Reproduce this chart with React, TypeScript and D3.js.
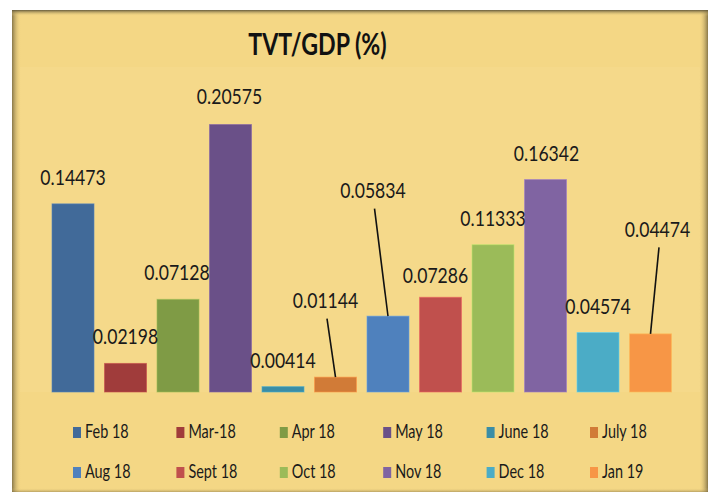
import React from "react";
import * as d3 from "d3";

const categories = ["Feb 18", "Mar-18", "Apr 18", "May 18", "June 18", "July 18", "Aug 18", "Sept 18", "Oct 18", "Nov 18", "Dec 18", "Jan 19"];
const values = [0.14473, 0.02198, 0.07128, 0.20575, 0.00414, 0.01144, 0.05834, 0.07286, 0.11333, 0.16342, 0.04574, 0.04474];
const labels = ["0.14473", "0.02198", "0.07128", "0.20575", "0.00414", "0.01144", "0.05834", "0.07286", "0.11333", "0.16342", "0.04574", "0.04474"];
const colors = ["#416A99", "#A03C3B", "#7F9B45", "#6A5088", "#3A8DA6", "#D17B37", "#4F81BD", "#C0504D", "#9BBB59", "#8064A2", "#4BACC6", "#F79646"];
const title = "TVT/GDP (%)";

// layout: label offsets relative to bar centre / bar top (dx, dy), and whether a leader line is drawn
const labelLayout = [
  { dx: 0, dy: -19, leader: false },
  { dx: 0, dy: -19, leader: false },
  { dx: -1, dy: -19, leader: false },
  { dx: -1, dy: -21, leader: false },
  { dx: 0, dy: -19, leader: false },
  { dx: -10, dy: -69, leader: true },
  { dx: -15, dy: -118, leader: true },
  { dx: -5, dy: -14, leader: false },
  { dx: 0, dy: -19, leader: false },
  { dx: 1, dy: -19, leader: false },
  { dx: 0, dy: -19, leader: false },
  { dx: 7, dy: -97, leader: true },
];

const W = 718;
const H = 493;
const BG = "#F4D785";
const EDGE = "#7d6d42";

export default function App() {
  const x = d3.scaleBand<string>().domain(categories).range([46.75, 676.75]).paddingInner(0.2).paddingOuter(0.1);
  const y = d3.scaleLinear().domain([0, 0.25]).range([392, 67]);

  const labelScale = 0.8;
  const legendScale = 0.74;
  const titleScale = 0.76;

  const legendX = d3.scaleLinear().domain([0, 5]).range([73, 590]);
  const legendRows = [438, 478];

  return (
    <svg width={W} height={H} style={{ position: "absolute", left: 0, top: 0 }} fontFamily="Lato, 'Liberation Sans', Arial, sans-serif">
      <defs>
        <linearGradient id="gl" x1="0" x2="1" y1="0" y2="0">
          <stop offset="0" stopColor={EDGE} stopOpacity={0.9} />
          <stop offset="1" stopColor={BG} stopOpacity={0} />
        </linearGradient>
        <linearGradient id="gr" x1="0" x2="1" y1="0" y2="0">
          <stop offset="0" stopColor={BG} stopOpacity={0} />
          <stop offset="1" stopColor={EDGE} stopOpacity={0.9} />
        </linearGradient>
        <linearGradient id="gt" x1="0" x2="0" y1="0" y2="1">
          <stop offset="0" stopColor="#5e5538" stopOpacity={0.95} />
          <stop offset="1" stopColor={BG} stopOpacity={0} />
        </linearGradient>
        <linearGradient id="gb" x1="0" x2="0" y1="0" y2="1">
          <stop offset="0" stopColor={BG} stopOpacity={0} />
          <stop offset="1" stopColor={EDGE} stopOpacity={0.5} />
        </linearGradient>
      </defs>
      <rect x={0} y={0} width={W} height={H} fill="#ffffff" />
      <rect x={12} y={10} width={696} height={482} fill={BG} />
      <rect x={20} y={67} width={680} height={325} fill="#F5D98A" />
      <rect x={12} y={10} width={9} height={482} fill="url(#gl)" />
      <rect x={699} y={10} width={9} height={482} fill="url(#gr)" />
      <rect x={12} y={10} width={696} height={6} fill="url(#gt)" />
      <rect x={12} y={488} width={696} height={4} fill="url(#gb)" />

      <text
        transform={`translate(317.5,55) scale(${titleScale},1)`}
        textAnchor="middle"
        fontSize={30.5}
        fontWeight="bold"
        fill="#111"
      >
        {title}
      </text>

      {categories.map((c, i) => (
        <rect
          key={c}
          x={x(c)}
          y={y(values[i])}
          width={x.bandwidth()}
          height={y(0) - y(values[i])}
          fill={colors[i]}
          stroke={d3.color(colors[i])!.brighter(0.6).formatHex()}
          strokeOpacity={0.6}
          strokeWidth={1}
        />
      ))}

      {categories.map((c, i) => {
        const cx = (x(c) as number) + x.bandwidth() / 2;
        const top = y(values[i]);
        const L = labelLayout[i];
        const lx = cx + L.dx;
        const ly = top + L.dy;
        return (
          <g key={"l" + c}>
            {L.leader && (
              <line x1={lx + 1.5} y1={ly + 10.5} x2={cx} y2={top} stroke="#111" strokeWidth={1.6} />
            )}
            <text
              transform={`translate(${lx},${ly}) scale(${labelScale},1)`}
              textAnchor="middle"
              fontSize={22}
              fill="#1a1a1a"
            >
              {labels[i]}
            </text>
          </g>
        );
      })}

      {categories.map((c, i) => {
        const col = i % 6;
        const row = Math.floor(i / 6);
        const mx = legendX(col);
        const by = legendRows[row];
        return (
          <g key={"g" + c}>
            <rect x={mx} y={by - 11} width={8} height={11} fill={colors[i]} />
            <text transform={`translate(${mx + 12},${by}) scale(${legendScale},1)`} fontSize={19.5} fill="#1a1a1a">
              {c}
            </text>
          </g>
        );
      })}
    </svg>
  );
}
